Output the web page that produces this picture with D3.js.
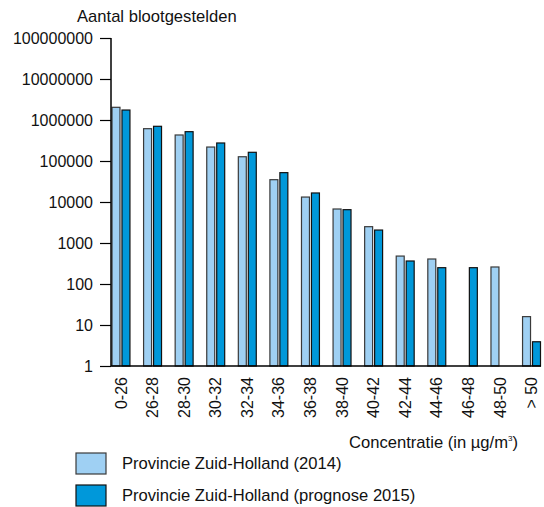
<!DOCTYPE html>
<html>
<head>
<meta charset="utf-8">
<script src="https://cdn.jsdelivr.net/npm/d3@7"></script>
<style>
  body { margin: 0; background: #fff; }
  text { font-family: "Liberation Sans", Arial, sans-serif; fill: #111; }
</style>
</head>
<body>
<svg id="chart" width="544" height="507"></svg>
<script>
// data
var categories = ["0-26", "26-28", "28-30", "30-32", "32-34", "34-36", "36-38",
                  "38-40", "40-42", "42-44", "44-46", "46-48", "48-50", "> 50"];
var values2014 = [2040000, 614000, 431000, 219000, 127000, 35000, 13200,
                  6750, 2500, 480, 407, 0, 260, 16];
var values2015 = [1750000, 702000, 519000, 275000, 163000, 52000, 16600,
                  6500, 2070, 364, 250, 250, 0, 3.9];
var yTicks = [1, 10, 100, 1000, 10000, 100000, 1000000, 10000000, 100000000];
var seriesNames = ["Provincie Zuid-Holland (2014)", "Provincie Zuid-Holland (prognose 2015)"];
var colors = ["#9fd0f3", "#0098da"];
var strokes = ["#3a3a3a", "#111"];

const svg = d3.select("#chart")

var margin = {top: 38, left: 111, bottom: 366, right: 541};

var x = d3.scaleBand()
          .domain(categories)
          .range([margin.left + 0.5, margin.right])
          .paddingInner(0.4)
          .paddingOuter(0)

var y = d3.scaleLog()
          .domain([1, 100000000])
          .range([margin.bottom, margin.top])

var sub = d3.scaleBand()
            .domain([0, 1])
            .range([0, x.bandwidth()])
            .paddingInner(0.1)

// title
svg.append("text")
   .attr("x", 77)
   .attr("y", 22)
   .attr("font-size", 16.6)
   .text("Aantal blootgestelden")

// bars
var rows = categories.map((c, i) => ({cat: c, vals: [values2014[i], values2015[i]]}))

const groups = svg.append("g")
                  .selectAll("g")
                  .data(rows)
                  .enter()
                  .append("g")
                  .attr("transform", d => "translate(" + x(d.cat) + ",0)")

groups.selectAll("rect")
      .data(d => d.vals.map((v, k) => ({v: v, k: k})))
      .enter()
      .append("rect")
      .attr("x", d => sub(d.k) + 0.5)
      .attr("width", sub.bandwidth() - 1)
      .attr("y", d => y(Math.max(d.v, 1)))
      .attr("height", d => margin.bottom - y(Math.max(d.v, 1)))
      .attr("fill", d => colors[d.k])
      .attr("stroke", d => strokes[d.k])
      .attr("stroke-width", 1.2)

// y axis
const yAxis = svg.append("g")
                 .attr("transform", "translate(" + margin.left + ",0)")
                 .call(d3.axisLeft(y).tickValues(yTicks).tickFormat(d3.format("d")).tickSize(11).tickPadding(7))
yAxis.select(".domain").attr("stroke", "#000").attr("stroke-width", 1.5)
     .attr("d", "M0," + margin.top + "V" + margin.bottom)
yAxis.selectAll(".tick line").attr("stroke", "#000").attr("stroke-width", 1.2)
yAxis.selectAll("text").attr("font-size", 16).attr("fill", "#111")
     .attr("font-family", "Liberation Sans, Arial, sans-serif")

// x base line
svg.append("line")
   .attr("x1", margin.left)
   .attr("x2", margin.right)
   .attr("y1", margin.bottom)
   .attr("y2", margin.bottom)
   .attr("stroke", "#000")
   .attr("stroke-width", 1.5)

// x labels
svg.append("g")
   .selectAll("text")
   .data(categories)
   .enter()
   .append("text")
   .attr("transform", d => "translate(" + (x(d) + x.bandwidth() / 2) + ",377) rotate(-90)")
   .attr("text-anchor", "end")
   .attr("dy", "0.35em")
   .attr("font-size", 16)
   .text(d => d)

// x title
const xt = svg.append("text")
              .attr("x", 518)
              .attr("y", 448)
              .attr("text-anchor", "end")
              .attr("font-size", 16.6)
xt.append("tspan").text("Concentratie (in \u00b5g/m")
xt.append("tspan").attr("font-size", 8).attr("dy", -7).text("3")
xt.append("tspan").attr("dy", 7).text(")")

// legend
const legend = svg.append("g")
                  .selectAll("g")
                  .data(seriesNames)
                  .enter()
                  .append("g")
                  .attr("transform", (d, i) => "translate(76," + (453 + i * 32) + ")")

legend.append("rect")
      .attr("width", 30)
      .attr("height", 21)
      .attr("fill", (d, i) => colors[i])
      .attr("stroke", (d, i) => strokes[i])
      .attr("stroke-width", 1.2)

legend.append("text")
      .attr("x", 46)
      .attr("y", 15.5)
      .attr("font-size", 16.6)
      .text(d => d)
</script>
</body>
</html>
